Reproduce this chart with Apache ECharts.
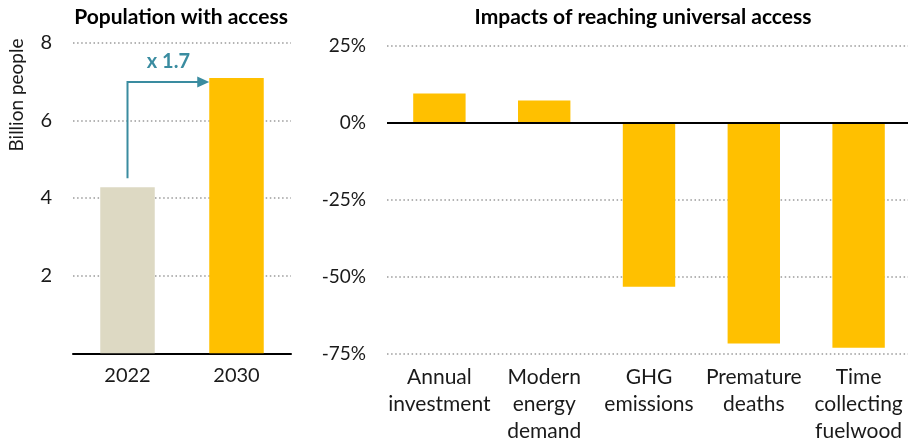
<!DOCTYPE html>
<html>
<head>
<meta charset="utf-8">
<script src="https://cdn.jsdelivr.net/npm/echarts@6/dist/echarts.min.js"></script>
<style>
  html, body { margin: 0; padding: 0; background: #ffffff; }
  #chart { width: 908px; height: 441px; }
</style>
</head>
<body>
<div id="chart"></div>
<script>
// Population with access to electricity (billion people)
const populationYears = ['2022', '2030'];
const populationValues = [4.28, 7.09];
const populationColors = ['#DDD9C3', '#FFC000'];
const populationTicks = [2, 4, 6, 8];
const growthLabel = 'x 1.7';

// Change relative to baseline when universal access is reached (%)
const impactCategories = [
  'Annual\ninvestment',
  'Modern\nenergy\ndemand',
  'GHG\nemissions',
  'Premature\ndeaths',
  'Time\ncollecting\nfuelwood'
];
const impactValues = [9.6, 7.3, -53.2, -71.6, -73.0];
const impactTicks = [-75, -50, -25, 0, 25];

const FONT = 'Lato';
const TEXT = '#1a1a1a';
const TEAL = '#3A8CA0';
const GOLD = '#FFC000';

const gridLine = {
  show: true,
  lineStyle: { color: '#9a9a9a', width: 1.5, type: [1.5, 2.6] }
};

const chart = echarts.init(document.getElementById('chart'), null, { renderer: 'canvas' });

chart.setOption({
  animation: false,
  backgroundColor: '#ffffff',
  textStyle: { fontFamily: FONT },
  title: [
    {
      text: 'Population with access',
      left: 176, top: 2, textAlign: 'center',
      textStyle: { fontFamily: FONT, fontWeight: 'bold', fontSize: 21, color: '#000' }
    },
    {
      text: 'Impacts of reaching universal access',
      left: 638, top: 2, textAlign: 'center',
      textStyle: { fontFamily: FONT, fontWeight: 'bold', fontSize: 21, color: '#000' }
    }
  ],
  grid: [
    { left: 73, right: 617, top: 42.7, bottom: 87.7, outerBoundsMode: 'none', containLabel: false },
    { left: 387, right: -3, top: 46, bottom: 87, outerBoundsMode: 'none', containLabel: false }
  ],
  xAxis: [
    {
      type: 'category', gridIndex: 0, data: populationYears,
      axisLine: { show: true, lineStyle: { color: '#000', width: 2 } },
      axisTick: { show: false },
      axisLabel: { color: TEXT, fontSize: 20, fontFamily: FONT, margin: 12 }
    },
    {
      type: 'category', gridIndex: 1, data: impactCategories,
      axisLine: { show: false, onZero: false },
      axisTick: { show: false },
      axisLabel: { color: TEXT, fontSize: 21, fontFamily: FONT, margin: 10, lineHeight: 27, interval: 0 }
    }
  ],
  yAxis: [
    {
      type: 'value', gridIndex: 0, min: 0, max: 8, interval: 2,
      axisLine: { show: false }, axisTick: { show: false },
      splitLine: gridLine,
      axisLabel: {
        color: TEXT, fontSize: 20, fontFamily: FONT, margin: 21,
        formatter: v => (populationTicks.includes(v) ? String(v) : '')
      }
    },
    {
      type: 'value', gridIndex: 1, min: -75, max: 25, interval: 25,
      axisLine: { show: false }, axisTick: { show: false },
      splitLine: gridLine,
      axisLabel: {
        color: TEXT, fontSize: 19, fontFamily: FONT, margin: 21,
        formatter: v => (impactTicks.includes(v) ? v + '%' : '')
      }
    }
  ],
  series: [
    {
      type: 'bar', xAxisIndex: 0, yAxisIndex: 0, barWidth: '50%',
      data: populationValues.map((v, i) => ({ value: v, itemStyle: { color: populationColors[i] } })),
      z: 3
    },
    {
      type: 'bar', xAxisIndex: 1, yAxisIndex: 1, barWidth: '50%',
      itemStyle: { color: GOLD },
      data: impactValues,
      z: 3,
      markLine: {
        silent: true, symbol: 'none', label: { show: false },
        lineStyle: { color: '#000', width: 2, type: 'solid' },
        data: [{ yAxis: 0 }],
        z: 5
      }
    }
  ]
});

// Growth arrow from the 2022 bar to the 2030 bar, placed through the axis scales
const p0 = chart.convertToPixel({ xAxisIndex: 0, yAxisIndex: 0 }, [0, populationValues[0]]);
const p1 = chart.convertToPixel({ xAxisIndex: 0, yAxisIndex: 0 }, [1, populationValues[1]]);
const halfBar = (p1[0] - p0[0]) * 0.25;
const startY = p0[1] - 9;
const levelY = p1[1] + 4;
const tipX = p1[0] - halfBar;
const headLen = 12, headHalf = 5.5;

chart.setOption({
  graphic: [
    {
      type: 'polyline', z: 10,
      shape: { points: [[p0[0], startY], [p0[0], levelY], [tipX - headLen + 1, levelY]] },
      style: { stroke: TEAL, lineWidth: 2, fill: null }
    },
    {
      type: 'polygon', z: 10,
      shape: { points: [[tipX, levelY], [tipX - headLen, levelY - headHalf], [tipX - headLen, levelY + headHalf]] },
      style: { fill: TEAL }
    },
    {
      type: 'text', z: 10,
      x: (p0[0] + tipX) / 2, y: levelY - 20,
      style: {
        text: growthLabel, fill: TEAL, font: 'bold 20px ' + FONT,
        textAlign: 'center', textVerticalAlign: 'middle'
      }
    },
    {
      type: 'text', z: 10,
      x: 17, y: 95, rotation: Math.PI / 2,
      style: {
        text: 'Billion people', fill: TEXT, font: '19px ' + FONT,
        textAlign: 'center', textVerticalAlign: 'middle'
      }
    }
  ]
});
</script>
</body>
</html>
